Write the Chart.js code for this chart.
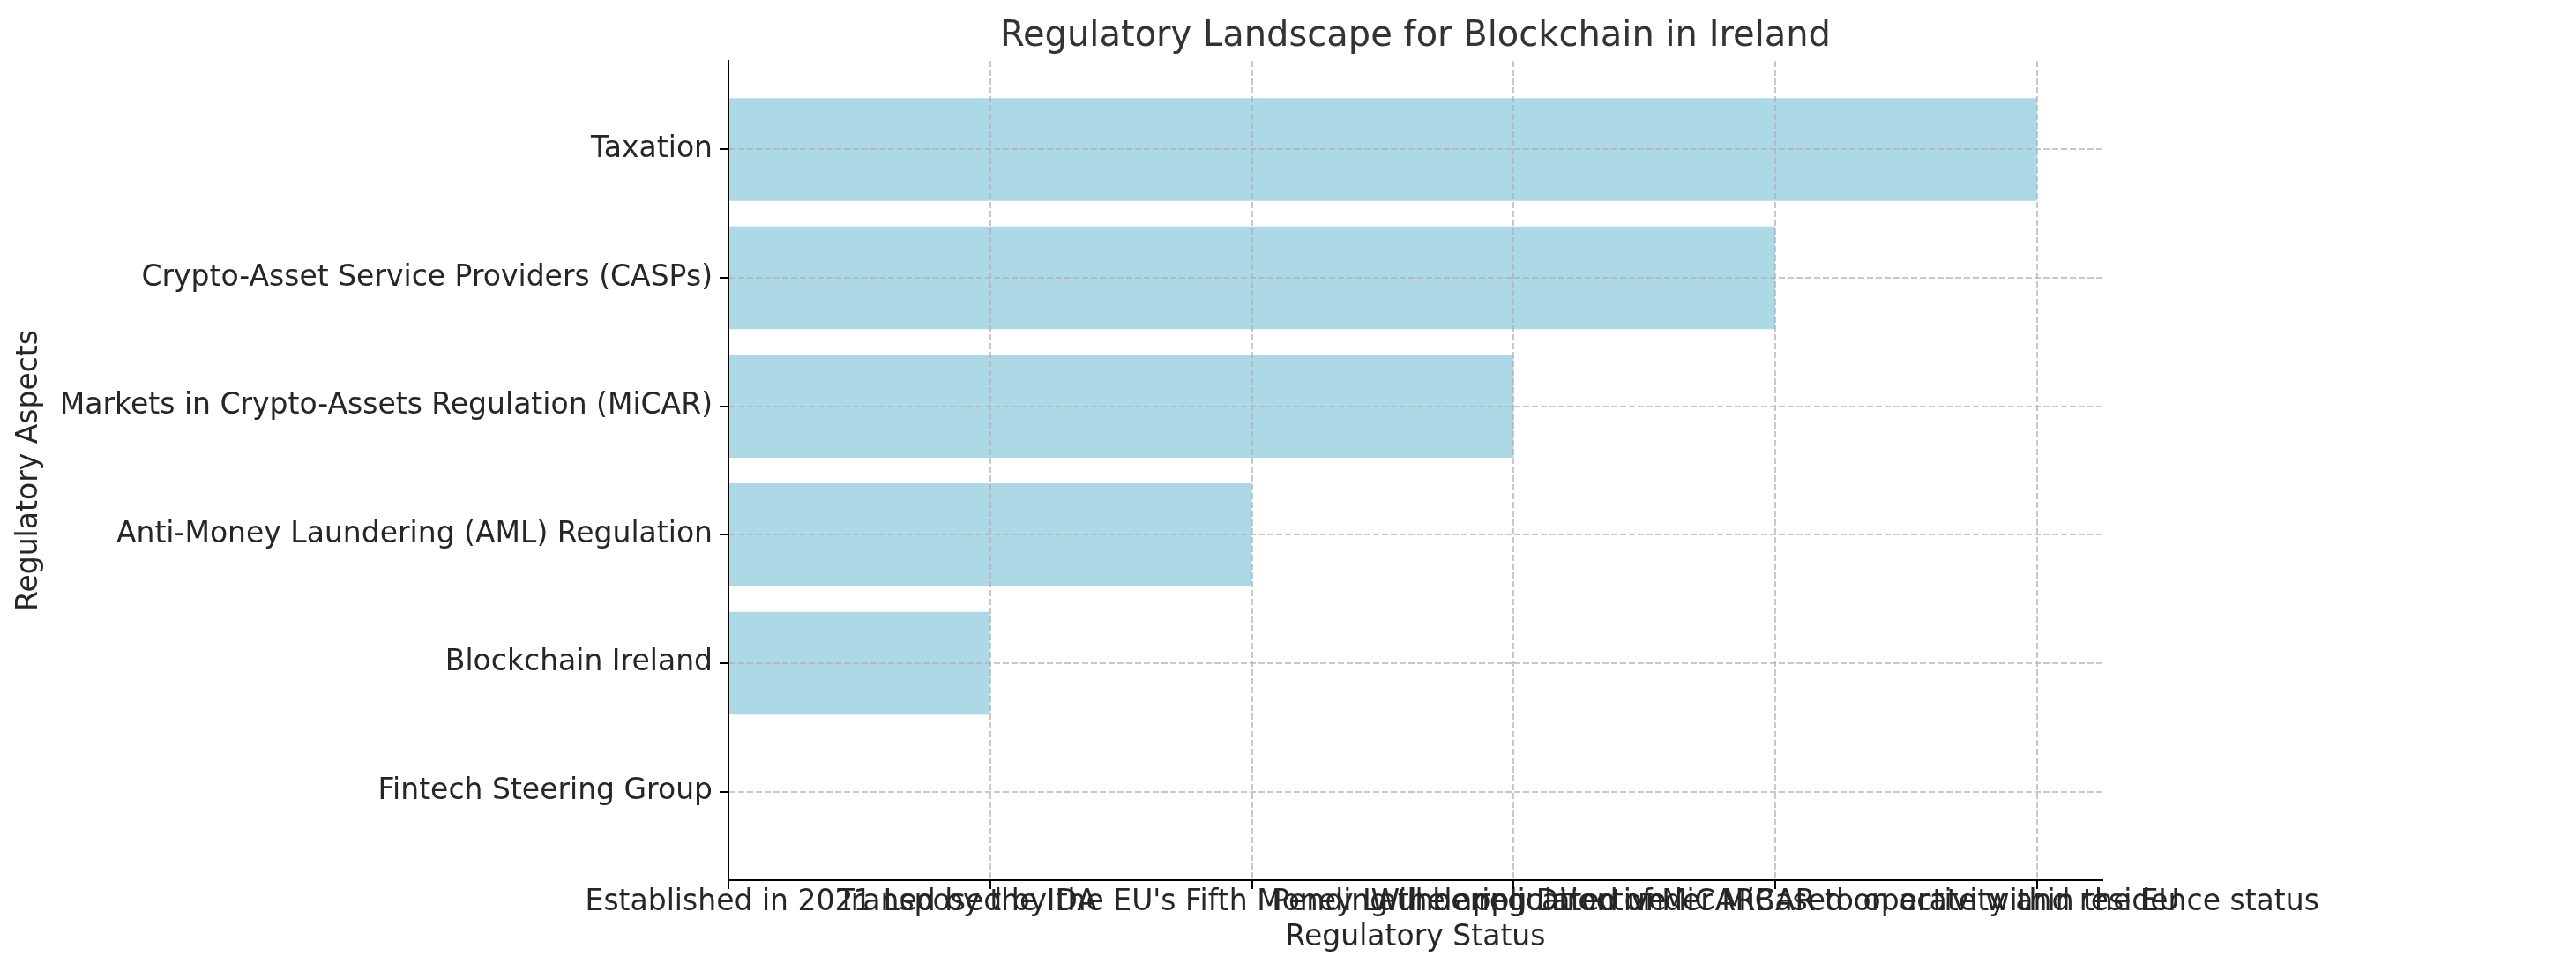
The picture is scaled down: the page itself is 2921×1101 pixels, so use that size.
<!DOCTYPE html>
<html>
<head>
<meta charset="utf-8">
<title>Regulatory Landscape for Blockchain in Ireland</title>
<script src="https://cdn.jsdelivr.net/npm/chart.js@4/dist/chart.umd.min.js"></script>
<style>
  body { margin: 0; background: #ffffff; }
  canvas { display: block; }
</style>
</head>
<body>
<canvas id="regChart" width="2921" height="1101"></canvas>
<script>
// Regulatory aspects, bottom to top
const aspects = [
  'Fintech Steering Group',
  'Blockchain Ireland',
  'Anti-Money Laundering (AML) Regulation',
  'Markets in Crypto-Assets Regulation (MiCAR)',
  'Crypto-Asset Service Providers (CASPs)',
  'Taxation'
];

// Status categories along the x axis (in order of appearance)
const statusLabels = [
  'Established in 2021',
  'Led by the IDA',
  "Transposed by the EU's Fifth Money Laundering Directive",
  'Pending the application of MiCAR',
  'Will be regulated under MiCAR to operate within the EU',
  'Based on activity and residence status'
];

// Which status each aspect maps to (bar length = category index)
const statusIndex = [0, 1, 2, 3, 4, 5];

const textColor = '#262626';
const gridColor = 'rgba(176,176,176,0.7)';

const points = aspects.map((a, i) => ({ x: statusIndex[i], y: i }));

const ctx = document.getElementById('regChart').getContext('2d');
const regChart = new Chart(ctx, {
  type: 'bar',
  data: {
    datasets: [{
      label: 'Regulatory Status',
      data: points,
      backgroundColor: '#ADD8E6',
      borderWidth: 0,
      categoryPercentage: 1.0,
      barPercentage: 0.8
    }]
  },
  options: {
    indexAxis: 'y',
    responsive: false,
    devicePixelRatio: 1,
    animation: false,
    layout: {
      padding: { left: 0, right: 537, top: 0, bottom: 0 }
    },
    plugins: {
      legend: { display: false },
      tooltip: { enabled: false },
      title: {
        display: true,
        fullSize: false,
        text: 'Regulatory Landscape for Blockchain in Ireland',
        color: '#333333',
        font: { family: 'DejaVu Sans', size: 40, weight: 'normal' },
        padding: { top: 18, bottom: 3 }
      }
    },
    scales: {
      x: {
        type: 'linear',
        position: 'bottom',
        min: 0,
        max: 5.25,
        offset: false,
        afterFit: function (scale) { scale.height = 103; },
        ticks: {
          stepSize: 1,
          includeBounds: false,
          autoSkip: false,
          maxRotation: 0,
          minRotation: 0,
          padding: -4,
          color: textColor,
          font: { family: 'DejaVu Sans', size: 33 },
          callback: function (value) {
            return Number.isInteger(value) ? statusLabels[value] : '';
          }
        },
        grid: {
          offset: false,
          z: 1,
          color: gridColor,
          lineWidth: 2,
          tickLength: 10,
          tickColor: '#000000',
          tickWidth: 2,
          tickBorderDash: []
        },
        border: { display: true, color: '#000000', width: 2, dash: [7, 3], z: 2 },
        title: {
          display: true,
          text: 'Regulatory Status',
          color: textColor,
          font: { family: 'DejaVu Sans', size: 33 },
          padding: { top: 0, bottom: 18 }
        }
      },
      y: {
        type: 'linear',
        position: 'left',
        min: -0.69,
        max: 5.69,
        offset: false,
        afterFit: function (scale) { scale.width = 826; },
        ticks: {
          stepSize: 1,
          includeBounds: false,
          autoSkip: false,
          padding: 8,
          color: textColor,
          font: { family: 'DejaVu Sans', size: 33 },
          callback: function (value) {
            return Number.isInteger(value) ? aspects[value] : '';
          }
        },
        grid: {
          offset: false,
          z: 1,
          color: gridColor,
          lineWidth: 2,
          tickLength: 10,
          tickColor: '#000000',
          tickWidth: 2,
          tickBorderDash: []
        },
        border: { display: true, color: '#000000', width: 2, dash: [7, 3], z: 2 },
        title: {
          display: true,
          text: 'Regulatory Aspects',
          color: textColor,
          font: { family: 'DejaVu Sans', size: 33 },
          padding: { top: 14, bottom: 0 }
        }
      }
    }
  }
});
</script>
</body>
</html>
